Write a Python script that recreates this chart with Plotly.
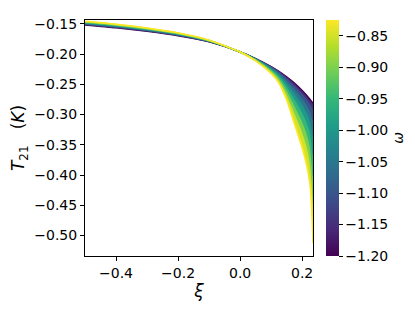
import plotly.graph_objects as go
from plotly.colors import sample_colorscale

# xi sample points
xi = [-0.5, -0.4, -0.3, -0.2, -0.1, 0.0, 0.05, 0.1, 0.125, 0.15, 0.175, 0.2, 0.215, 0.225, 0.23, 0.235]

# omega values of the plotted curves
omega = [-1.2, -1.15, -1.1, -1.05, -1.0, -0.95, -0.9, -0.85, -0.825]

# T21 (K), one list per omega
t21_m120 = [-0.1516, -0.1563, -0.1622, -0.1695, -0.1797, -0.1964, -0.2073, -0.2207, -0.2286, -0.2376, -0.2479, -0.2601, -0.2684, -0.2745, -0.2778, -0.2810]
t21_m115 = [-0.1508, -0.1555, -0.1615, -0.1689, -0.1793, -0.1964, -0.2074, -0.2211, -0.2294, -0.2391, -0.2506, -0.2639, -0.2730, -0.2801, -0.2845, -0.2902]
t21_m110 = [-0.1500, -0.1547, -0.1607, -0.1682, -0.1789, -0.1964, -0.2077, -0.2221, -0.2309, -0.2422, -0.2560, -0.2716, -0.2825, -0.2915, -0.2984, -0.3090]
t21_m105 = [-0.1492, -0.1539, -0.1600, -0.1676, -0.1785, -0.1964, -0.2082, -0.2233, -0.2331, -0.2465, -0.2634, -0.2820, -0.2953, -0.3069, -0.3171, -0.3345]
t21_m100 = [-0.1485, -0.1532, -0.1593, -0.1670, -0.1782, -0.1964, -0.2087, -0.2248, -0.2357, -0.2516, -0.2724, -0.2948, -0.3110, -0.3258, -0.3400, -0.3658]
t21_m095 = [-0.1477, -0.1524, -0.1585, -0.1664, -0.1778, -0.1964, -0.2092, -0.2266, -0.2387, -0.2577, -0.2830, -0.3097, -0.3294, -0.3480, -0.3668, -0.4024]
t21_m090 = [-0.1469, -0.1516, -0.1578, -0.1657, -0.1774, -0.1964, -0.2099, -0.2286, -0.2422, -0.2645, -0.2949, -0.3265, -0.3500, -0.3728, -0.3969, -0.4434]
t21_m085 = [-0.1461, -0.1508, -0.1571, -0.1651, -0.1770, -0.1964, -0.2106, -0.2308, -0.2460, -0.2720, -0.3079, -0.3450, -0.3727, -0.4002, -0.4301, -0.4886]
t21_m0825 = [-0.1457, -0.1504, -0.1567, -0.1648, -0.1768, -0.1964, -0.2110, -0.2320, -0.2480, -0.2760, -0.3150, -0.3550, -0.3850, -0.4150, -0.4480, -0.5130]

curves = [t21_m120, t21_m115, t21_m110, t21_m105, t21_m100, t21_m095, t21_m090, t21_m085, t21_m0825]

y_ticks = [-0.15, -0.20, -0.25, -0.30, -0.35, -0.40, -0.45, -0.50]
x_ticks = [-0.4, -0.2, 0.0, 0.2]
cb_ticks = [-1.20, -1.15, -1.10, -1.05, -1.00, -0.95, -0.90, -0.85]


def minus(v, fmt):
    return format(v, fmt).replace("-", "\u2212")


wmin, wmax = -1.2, -0.825
font = dict(family="DejaVu Sans", size=14, color="black")

fig = go.Figure()
for i, (w, ys) in enumerate(zip(omega, curves)):
    t = (w - wmin) / (wmax - wmin)
    col = sample_colorscale("Viridis", [t])[0]
    fig.add_trace(go.Scatter(
        x=xi, y=ys, mode="lines", line=dict(color=col, width=1.5, shape="spline", smoothing=0.6),
        fill="tonexty" if i > 0 else None, fillcolor=col, showlegend=False, hoverinfo="skip"))

fig.add_trace(go.Scatter(
    x=[10], y=[10], mode="markers", showlegend=False,
    marker=dict(color=[wmin], colorscale="Viridis", cmin=wmin, cmax=wmax, showscale=True,
                colorbar=dict(thickness=13, len=1, lenmode="fraction", y=0.5, yanchor="middle",
                              x=1.057, xanchor="left", xpad=0, ypad=0,
                              tickvals=cb_ticks, ticktext=[minus(v, ".2f") for v in cb_ticks],
                              ticks="outside", ticklen=4, tickcolor="black", outlinewidth=0,
                              tickfont=font,
                              title=dict(text="<i>ω</i>", side="right", font=font)))))

fig.update_layout(
    width=407, height=303, margin=dict(l=77, r=102, t=8, b=55),
    paper_bgcolor="white", plot_bgcolor="white", font=font,
    xaxis=dict(range=[-0.5, 0.235], tickvals=x_ticks, ticktext=[minus(v, ".1f") for v in x_ticks],
               showgrid=False, zeroline=False,
               showline=True, linecolor="black", linewidth=1, mirror=True, ticks="outside", ticklen=4,
               tickcolor="black", title=dict(text="<i>ξ</i>", standoff=4)),
    yaxis=dict(range=[-0.534, -0.1435], tickvals=y_ticks, ticktext=[minus(v, ".2f") for v in y_ticks],
               showgrid=False, zeroline=False,
               showline=True, linecolor="black", linewidth=1, mirror=True, ticks="outside", ticklen=4,
               tickcolor="black", title=dict(text="<i>T</i><sub>21</sub>   (<i>K</i>)", standoff=6)),
)

fig.write_html("out.html")
